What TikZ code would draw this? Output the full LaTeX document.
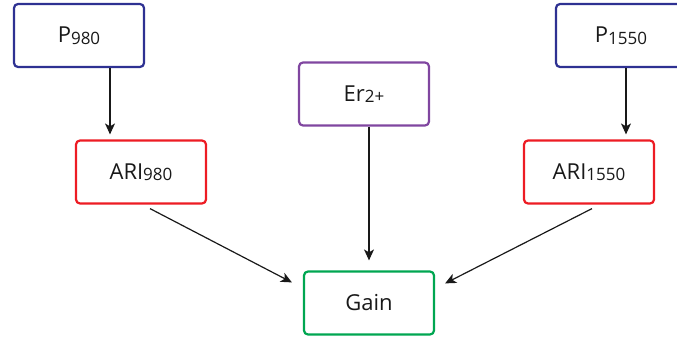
\documentclass[tikz,border=0pt]{standalone}
\usepackage{fontspec}
\setmainfont{Open Sans}
\usetikzlibrary{arrows.meta}

\definecolor{pumpblue}{RGB}{46,49,146}
\definecolor{arired}{RGB}{237,28,36}
\definecolor{erpurple}{RGB}{128,70,160}
\definecolor{gaingreen}{RGB}{0,166,81}

\newcommand{\lab}[2]{#1{\fontsize{17}{20}\selectfont\raisebox{-1.5pt}{#2}}}

\tikzset{
    block/.style={draw=#1, line width=2.2pt, rounded corners=4pt, minimum width=130pt,
        minimum height=63pt, font=\fontsize{22}{26}\selectfont, text=black!90},
    arr/.style={-{Stealth[length=11pt,width=10pt,inset=3pt]}, line width=1.2pt, black!90}
}

\begin{document}
\begin{tikzpicture}[x=1pt, y=-1pt]
                \useasboundingbox (0,0) rectangle (677,345);
                % Nodes
                \node[block=pumpblue] (p980) at (79,35.5) {\lab{P}{980}};
                \node[block=arired] (ari980) at (141,172) {\lab{ARI}{980}};
                \node[block=erpurple] (er) at (364,94) {\lab{Er}{2+}};
                \node[block=gaingreen] (gain) at (369,303) {Gain};
                \node[block=pumpblue] (p1550) at (621,35.5) {\lab{P}{1550}};
                \node[block=arired] (ari1550) at (589,172) {\lab{ARI}{1550}};

                % Edges
                \draw[arr, shorten >=5pt] ([xshift=31pt]p980.south) -- ([xshift=-31pt]ari980.north);
                \draw[arr, shorten >=5pt] ([xshift=5pt]p1550.south) -- ([xshift=5pt]p1550.south |- ari1550.north);
                \draw[arr, shorten >=10pt] (er.south -| gain.north) -- (gain.north);
                \draw[arr] ([xshift=9pt, yshift=-4pt]ari980.south) -- ([xshift=-11pt, yshift=-12pt]gain.north west);
                \draw[arr] ([xshift=3pt, yshift=-4pt]ari1550.south) -- ([xshift=10pt, yshift=-13pt]gain.north east);
            \end{tikzpicture}
\end{document}
